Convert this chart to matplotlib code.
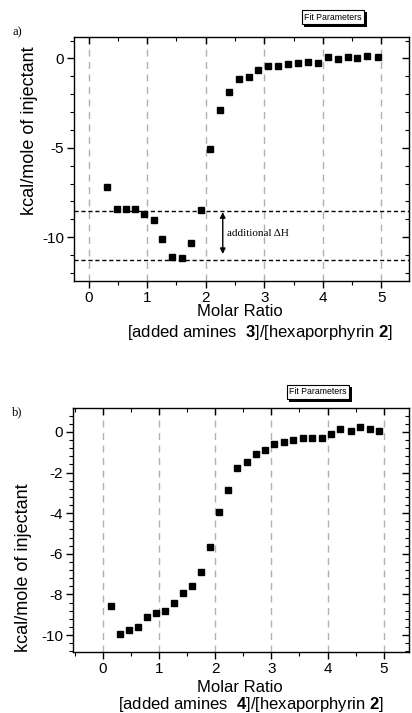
import matplotlib
matplotlib.use("Agg")
import matplotlib.pyplot as plt
from matplotlib.ticker import MultipleLocator
from matplotlib.patches import Rectangle

plt.rcParams['font.family'] = ['Liberation Sans', 'DejaVu Sans']
plt.rcParams['mathtext.fontset'] = 'custom'
plt.rcParams['mathtext.rm'] = 'Liberation Sans'
plt.rcParams['mathtext.bf'] = 'Liberation Sans:bold'
plt.rcParams['axes.unicode_minus'] = False

# ---- data ----
xa = [0.31, 0.48, 0.63, 0.79, 0.95, 1.11, 1.26, 1.43, 1.59, 1.75, 1.92, 2.07, 2.24, 2.40,
      2.56, 2.73, 2.89, 3.06, 3.24, 3.40, 3.57, 3.74, 3.91, 4.08, 4.25, 4.42, 4.59, 4.76, 4.94]
ya = [-7.2, -8.41, -8.41, -8.41, -8.69, -9.06, -10.1, -11.1, -11.17, -10.3, -8.46, -5.06, -2.9, -1.85,
      -1.17, -1.02, -0.67, -0.41, -0.45, -0.31, -0.24, -0.2, -0.24, 0.06, -0.05, 0.06, 0.0, 0.11, 0.09]

xb = [0.15, 0.31, 0.47, 0.62, 0.78, 0.94, 1.10, 1.26, 1.42, 1.58, 1.74, 1.90, 2.06, 2.23, 2.39,
      2.56, 2.72, 2.89, 3.05, 3.23, 3.39, 3.56, 3.73, 3.90, 4.06, 4.23, 4.41, 4.58, 4.75, 4.92]
yb = [-8.55, -9.96, -9.73, -9.61, -9.1, -8.91, -8.8, -8.43, -7.91, -7.57, -6.91, -5.65, -3.93, -2.85, -1.77,
      -1.47, -1.1, -0.9, -0.6, -0.52, -0.41, -0.31, -0.31, -0.29, -0.11, 0.12, 0.05, 0.25, 0.12, 0.03]

grid_x = [0, 1, 2, 3, 4, 5]
hlines_a = [-8.55, -11.3]
arrow_a = (2.29, -8.6, -10.94)

W, H = 412, 713
fig = plt.figure(figsize=(W / 100, H / 100), dpi=100)


def px_axes(l, t, r, b):
    return fig.add_axes([l / W, 1 - b / H, (r - l) / W, (b - t) / H])


def style(ax):
    for s in ax.spines.values():
        s.set_linewidth(1.0)
        s.set_color('black')
    ax.tick_params(which='both', top=True, right=True)
    ax.tick_params(axis='both', which='both', direction='out', labelsize=11, pad=2)
    ax.tick_params(which='major', length=5, width=1)
    ax.tick_params(which='minor', length=3, width=0.8)
    ax.xaxis.set_major_locator(MultipleLocator(1))
    ax.xaxis.set_minor_locator(MultipleLocator(0.5))
    for g in grid_x:
        ax.axvline(g, color='#b0b0b0', lw=1.0, ls=(0, (5, 4)), zorder=0)


def fix_ticks(ax):
    for t in ax.xaxis.get_major_ticks() + ax.xaxis.get_minor_ticks():
        t.tick2line.set_marker(3)  # inward at top
    for t in ax.yaxis.get_major_ticks() + ax.yaxis.get_minor_ticks():
        t.tick2line.set_marker(0)  # inward at right


fit_texts = []


def fit_box(x, y):
    t = fig.text(x / W, 1 - y / H, 'Fit Parameters', color='black', ha='center', va='center',
                 fontsize=6.3, family=['Liberation Sans Narrow', 'Liberation Sans'], zorder=5,
                 bbox=dict(boxstyle='square,pad=0.3', fc='white', ec='black', lw=0.8))
    fit_texts.append(t)


# ---- panel a ----
axa = px_axes(74, 37, 409, 281)
style(axa)
axa.set_xlim(-0.25, 5.47)
axa.set_ylim(-12.45, 1.2)
axa.yaxis.set_major_locator(MultipleLocator(5))
axa.yaxis.set_minor_locator(MultipleLocator(1))
axa.plot(xa, ya, 's', color='black', markersize=4.5, zorder=3)
for h in hlines_a:
    axa.axhline(h, color='black', lw=1.0, ls=(0, (3, 2)), zorder=2)
axa.annotate('', xy=(arrow_a[0], arrow_a[1]), xytext=(arrow_a[0], arrow_a[2]),
             arrowprops=dict(arrowstyle='<|-|>', color='black', lw=1.0, mutation_scale=8,
                             shrinkA=0, shrinkB=0))
axa.text(2.37, -9.8, 'additional ΔH', family=['Liberation Serif', 'DejaVu Serif'],
         fontsize=8, va='center', ha='left')
axa.set_ylabel('kcal/mole of injectant', fontsize=13)
axa.yaxis.set_label_coords((38 - 74) / (409 - 74), (281 - 131) / 244)
fix_ticks(axa)

fig.text(17 / W, 1 - 32 / H, 'a)', family=['Liberation Serif'], fontsize=9, ha='center', va='center')
fit_box(333, 17)
fig.text(240 / W, 1 - 312 / H, 'Molar Ratio', fontsize=12, ha='center', va='center')
fig.text(260 / W, 1 - 333 / H, r'[added amines  $\mathbf{3}$]/[hexaporphyrin $\mathbf{2}$]',
         fontsize=12, ha='center', va='center')

# ---- panel b ----
axb = px_axes(73, 407.7, 409, 652.3)
style(axb)
axb.set_xlim(-0.53, 5.45)
axb.set_ylim(-10.85, 1.19)
axb.yaxis.set_major_locator(MultipleLocator(2))
axb.yaxis.set_minor_locator(MultipleLocator(0.4))
axb.plot(xb, yb, 's', color='black', markersize=4.5, zorder=3)
axb.set_ylabel('kcal/mole of injectant', fontsize=13)
axb.yaxis.set_label_coords((32 - 73) / (409 - 73), (652.3 - 568) / 244.6)
fix_ticks(axb)

fig.text(17 / W, 1 - 412 / H, 'b)', family=['Liberation Serif'], fontsize=9, ha='center', va='center')
fit_box(318, 392)
fig.text(240 / W, 1 - 688 / H, 'Molar Ratio', fontsize=12, ha='center', va='center')
fig.text(251 / W, 1 - 704 / H, r'[added amines  $\mathbf{4}$]/[hexaporphyrin $\mathbf{2}$]',
         fontsize=12, ha='center', va='center')

# shadows behind the "Fit Parameters" boxes
fig.canvas.draw()
r = fig.canvas.get_renderer()
for t in fit_texts:
    bb = t.get_bbox_patch().get_window_extent(r)
    fig.patches.append(Rectangle((bb.x0 + 2.5, bb.y0 - 2.5), bb.width, bb.height,
                                 transform=None, fc='black', ec='black', lw=0, zorder=4))

fig.savefig('out.png', dpi=100)
